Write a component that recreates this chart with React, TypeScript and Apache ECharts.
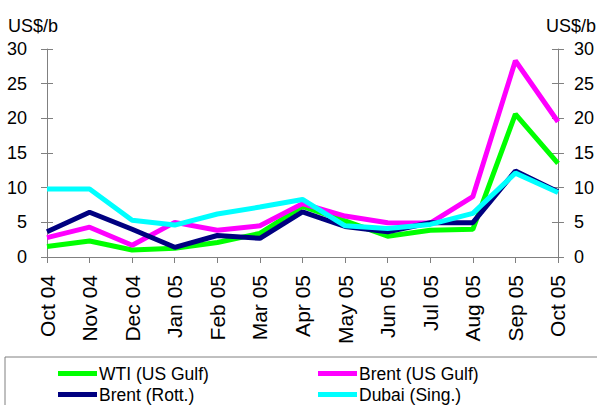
import React, { useEffect, useRef } from "react";
import * as echarts from "echarts";

const categories = ["Oct 04", "Nov 04", "Dec 04", "Jan 05", "Feb 05", "Mar 05", "Apr 05", "May 05", "Jun 05", "Jul 05", "Aug 05", "Sep 05", "Oct 05"];
const wtiUsGulf = [1.5, 2.3, 1.0, 1.25, 2.1, 3.4, 7.3, 5.2, 3.0, 3.85, 4.0, 20.6, 13.5];
const brentUsGulf = [2.8, 4.3, 1.7, 5.0, 3.85, 4.5, 7.7, 5.9, 4.95, 4.9, 8.7, 28.3, 19.5];
const brentRott = [3.65, 6.45, 4.0, 1.4, 3.1, 2.7, 6.5, 4.4, 3.65, 4.95, 4.95, 12.4, 9.4];
const dubaiSing = [9.8, 9.8, 5.3, 4.6, 6.2, 7.2, 8.3, 4.5, 4.1, 4.7, 6.3, 12.1, 9.3];
const unitLabel = "US$/b";

const FONT = "'Liberation Sans', Arial, sans-serif";

export default function App() {
  const ref = useRef<HTMLDivElement>(null);
  useEffect(() => {
    if (!ref.current) return;
    const chart = echarts.init(ref.current, null, { renderer: "svg" });
    const axisColor = "#808080";
    const yBase = (position: string, inside: boolean, labels: boolean, margin: number) => ({
      type: "value",
      position,
      min: 0,
      max: 30,
      interval: 5,
      axisLine: { show: !inside, lineStyle: { color: axisColor, width: 1 } },
      axisTick: { show: true, inside, length: 6, lineStyle: { color: axisColor } },
      axisLabel: { show: labels, color: "#000", fontSize: 18, fontFamily: FONT, margin },
      splitLine: { show: false },
    });
    const mk = (name: string, data: number[], color: string) => ({
      name,
      type: "line",
      data,
      yAxisIndex: 0,
      symbol: "none",
      lineStyle: { color, width: 5 },
      itemStyle: { color },
    });
    const legendBase = {
      orient: "vertical",
      top: 363,
      itemWidth: 39,
      itemHeight: 5,
      itemGap: 0,
      icon: "rect",
      padding: 0,
      textStyle: { fontSize: 17.5, fontFamily: FONT, color: "#000", lineHeight: 21, padding: [0, 0, 0, -3] },
    };
    chart.setOption({
      animation: false,
      backgroundColor: "#fff",
      grid: { left: 47, right: 38, top: 49, bottom: 148 },
      xAxis: {
        type: "category",
        data: categories,
        boundaryGap: false,
        axisLine: { lineStyle: { color: axisColor, width: 1 } },
        axisTick: { show: true, length: 6, alignWithLabel: true, lineStyle: { color: axisColor } },
        axisLabel: { rotate: 90, color: "#000", fontSize: 21, fontFamily: FONT, margin: 18, interval: 0 },
        splitLine: { show: false },
      },
      yAxis: [
        yBase("left", false, true, 20),
        yBase("left", true, false, 0),
        yBase("right", false, true, 16),
        yBase("right", true, false, 0),
      ],
      legend: [
        { ...legendBase, data: ["WTI (US Gulf)", "Brent (Rott.)"], left: 58 },
        { ...legendBase, data: ["Brent (US Gulf)", "Dubai (Sing.)"], left: 318 },
      ],
      graphic: [
        {
          type: "rect",
          shape: { x: 5, y: 357, width: 620, height: 80 },
          style: { fill: "none", stroke: axisColor, lineWidth: 1 },
          silent: true,
        },
        {
          type: "text",
          x: 8,
          y: 26,
          style: { text: unitLabel, fontSize: 18, fontFamily: FONT, fill: "#000", textVerticalAlign: "middle", textAlign: "left" },
        },
        {
          type: "text",
          x: 596,
          y: 26,
          style: { text: unitLabel, fontSize: 18, fontFamily: FONT, fill: "#000", textVerticalAlign: "middle", textAlign: "right" },
        },
      ],
      series: [
        mk("WTI (US Gulf)", wtiUsGulf, "#00FF00"),
        mk("Brent (US Gulf)", brentUsGulf, "#FF00FF"),
        mk("Brent (Rott.)", brentRott, "#000080"),
        mk("Dubai (Sing.)", dubaiSing, "#00FFFF"),
      ],
    });
    return () => chart.dispose();
  }, []);
  return <div ref={ref} style={{ width: 597, height: 405, position: "fixed", left: 0, top: 0 }} />;
}
